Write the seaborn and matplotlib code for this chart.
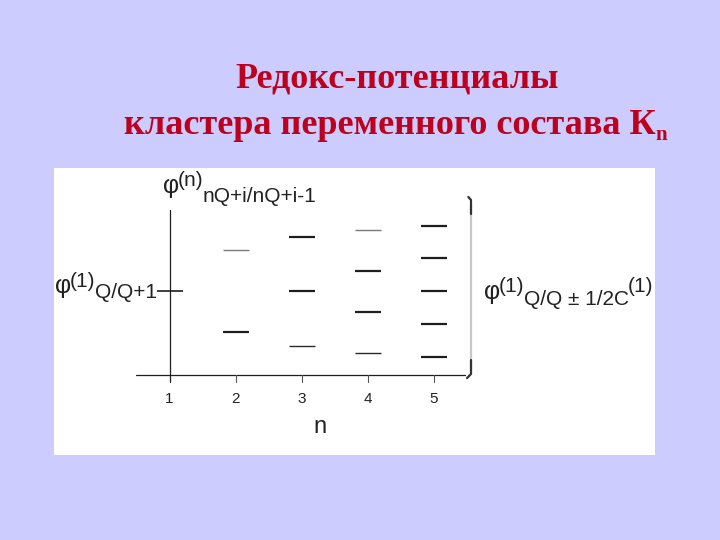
import matplotlib
matplotlib.use("Agg")
import matplotlib.pyplot as plt
from matplotlib.transforms import Affine2D
from matplotlib.patches import Rectangle
import seaborn as sns
import pandas as pd

# ---------------- data ----------------
n_values = [1, 2, 3, 4, 5]
levels_n1 = [0.0]
levels_n2 = [4.1, -4.1]
levels_n3 = [5.4, 0.0, -5.5]
levels_n4 = [6.1, 2.0, -2.1, -6.2]
levels_n5 = [6.5, 3.3, 0.0, -3.3, -6.6]
weights_n1 = ["mid"]
weights_n2 = ["thin_gray", "thick"]
weights_n3 = ["thick", "thick", "thin"]
weights_n4 = ["thin_gray", "thick", "thick", "thin"]
weights_n5 = ["thick", "thick", "thick", "thick", "thick"]
tick_labels = ["1", "2", "3", "4", "5"]

title_line1 = "Редокс-потенциалы"
title_line2 = "кластера переменного состава К"
title_sub = "n"
xlabel = "n"

all_levels = [levels_n1, levels_n2, levels_n3, levels_n4, levels_n5]
all_weights = [weights_n1, weights_n2, weights_n3, weights_n4, weights_n5]
rows = []
for n, lv, wt in zip(n_values, all_levels, all_weights):
    for v, w in zip(lv, wt):
        rows.append({"n": n, "phi": v, "weight": w})
df = pd.DataFrame(rows)

# ---------------- figure ----------------
sns.set_style("white")
plt.rcParams["font.family"] = ["Liberation Sans", "DejaVu Sans"]

W, H = 720, 540
fig = plt.figure(figsize=(7.2, 5.4), dpi=100)
fig.patch.set_facecolor("#CCCCFF")
pix = Affine2D().scale(1 / W, -1 / H).translate(0, 1) + fig.transFigure

# data axes mapped on whole figure: x_px = 169.5 + (x-1)*66 ; y_px = 291 - y*10
ax = fig.add_axes([0, 0, 1, 1])
ax.set_xlim(1 - 169.5 / 66, 1 + (W - 169.5) / 66)
ax.set_ylim((291 - H) / 10, 291 / 10)
ax.axis("off")

# white panel
ax.add_patch(Rectangle((54, 168), 601, 287, transform=pix,
                       facecolor="white", edgecolor="none", zorder=0))

ink = "#1e1e1e"
styles = {
    "thick": dict(color=ink, lw=1.6),
    "mid": dict(color=ink, lw=1.2),
    "thin": dict(color="#2a2a2a", lw=1.0),
    "thin_gray": dict(color="#7a7a7a", lw=1.0),
}
seg_len_pt = 27 * 0.72
for w, st in styles.items():
    sub = df[df["weight"] == w]
    if len(sub) == 0:
        continue
    sns.scatterplot(data=sub, x="n", y="phi", marker="_", s=seg_len_pt ** 2,
                    color=st["color"], edgecolor=st["color"],
                    linewidth=st["lw"], ax=ax, legend=False, zorder=3)

# axes lines
y_axis_y = (291 - 374.5) / 10
ax.plot([1, 1], [y_axis_y - 0.7, (291 - 210) / 10], color=ink, lw=0.9, zorder=2)
ax.plot([1 + (136 - 169.5) / 66, 1 + (465 - 169.5) / 66], [y_axis_y, y_axis_y],
        color=ink, lw=0.9, zorder=2)
for n in n_values[1:]:
    ax.plot([n, n], [y_axis_y, y_axis_y - 0.7], color="#555555", lw=0.8, zorder=2)
for n, lab in zip(n_values, tick_labels):
    ax.text(n, (291 - 399) / 10, lab, ha="center", va="center",
            fontsize=11, color="#222222")
ax.text(1 + (320 - 169.5) / 66, (291 - 427) / 10, xlabel, ha="center",
        va="center", fontsize=17, color="#222222")

# bracket on the right
bx = 1 + (471 - 169.5) / 66
ax.plot([bx, bx], [(291 - 205) / 10, (291 - 370) / 10], color="#c8c8c8", lw=1.6, zorder=2)
ax.plot([bx - 0.04, bx, bx], [(291 - 197) / 10, (291 - 200) / 10, (291 - 214) / 10],
        color="#333333", lw=1.6, zorder=2)
ax.plot([bx, bx, bx - 0.06], [(291 - 360) / 10, (291 - 374) / 10, (291 - 378) / 10],
        color="#333333", lw=1.6, zorder=2)

# ---------------- composite labels ----------------
renderer = fig.canvas.get_renderer()


def chain(x0, pieces, color="#222222"):
    x = x0
    for txt, y, fs in pieces:
        t = fig.text(x, y, txt, transform=pix, fontsize=fs, color=color,
                     ha="left", va="baseline")
        x += t.get_window_extent(renderer).width - 1
    return x


phi = "\u03c6"
chain(163, [(phi, 193, 18), ("(n)", 186, 15), ("nQ+i/nQ+i-1", 202, 15)])
chain(55, [(phi, 293, 18), ("(1)", 287, 15), ("Q/Q+1", 298, 15)])
chain(484, [(phi, 299, 18), ("(1)", 292, 15), ("Q/Q \u00b1 1/2C", 305, 15),
            ("(1)", 292, 15)])

# ---------------- title ----------------
red = "#BC001E"
tf = ["Liberation Serif", "DejaVu Serif"]
fig.text(397, 88, title_line1, transform=pix, fontsize=26, fontweight="bold",
         family=tf, color=red, ha="center", va="baseline")
t2 = fig.text(124, 134, title_line2, transform=pix, fontsize=26, fontweight="bold",
              family=tf, color=red, ha="left", va="baseline")
x_end = 124 + t2.get_window_extent(renderer).width
fig.text(x_end, 140, title_sub, transform=pix, fontsize=15, fontweight="bold",
         family=tf, color=red, ha="left", va="baseline")

fig.savefig("out.png", dpi=100, facecolor=fig.get_facecolor())
